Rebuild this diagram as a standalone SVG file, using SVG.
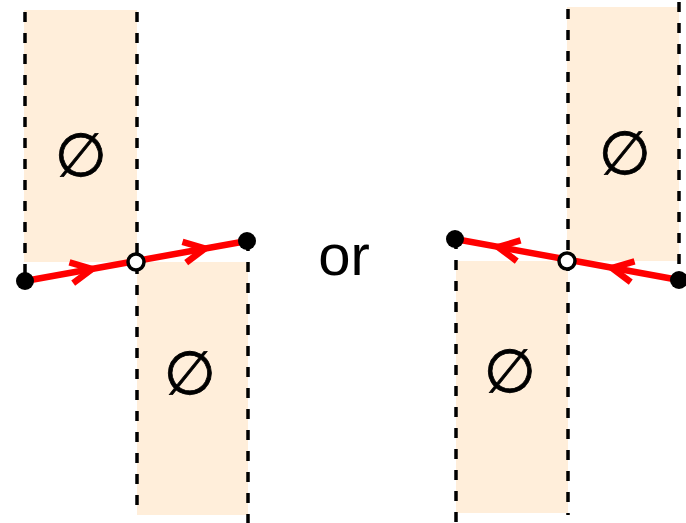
<svg xmlns="http://www.w3.org/2000/svg" width="686" height="523" viewBox="0 0 686 523">
<style>
.reg{fill:#FFEEDA;stroke:none}
.dash{stroke:#000;stroke-width:3.5;stroke-dasharray:10,11;fill:none}
.path{stroke:#FF0000;stroke-width:6.5;fill:none;stroke-linecap:butt}
.chev{stroke:#FF0000;stroke-width:6.5;fill:none;stroke-linejoin:miter}
.sym{font-family:"DejaVu Sans",sans-serif;font-size:60px;text-anchor:middle;fill:#000;stroke:#000;stroke-width:0.8}
.dot{fill:#000}
.open{fill:#fff;stroke:#000;stroke-width:3.5}
</style>
<defs>
<path id="chev" class="chev" d="M-21,-10.5 L0,0 L-21,10.5"/>
</defs>
<g id="regions">
<rect class="reg" x="24" y="10" width="113" height="252"/>
<rect class="reg" x="137" y="262" width="111" height="253"/>
<rect class="reg" x="567" y="7" width="112" height="254"/>
<rect class="reg" x="456" y="261" width="112" height="252"/>
</g>
<g id="symbols">
<text class="sym" x="81" y="176">∅</text>
<text class="sym" x="190" y="394">∅</text>
<text class="sym" x="625" y="174">∅</text>
<text class="sym" x="510" y="392">∅</text>
<text x="344" y="275" font-family="Liberation Sans, Arial, sans-serif" font-size="58" text-anchor="middle">or</text>
</g>
<g id="connectors">
<line class="dash" x1="25" y1="12" x2="25" y2="278"/>
<line class="dash" x1="137" y1="12" x2="137" y2="515"/>
<line class="dash" x1="248" y1="241" x2="248" y2="523"/>
<line class="dash" x1="679" y1="2" x2="679" y2="278"/>
<line class="dash" x1="568" y1="9" x2="568" y2="515"/>
<line class="dash" x1="456" y1="239" x2="456" y2="523"/>
<line class="path" x1="25" y1="281" x2="247" y2="241"/>
<line class="path" x1="679" y1="280" x2="455" y2="239"/>
<use href="#chev" transform="translate(92,269) rotate(-10.2)"/>
<use href="#chev" transform="translate(205,248.5) rotate(-10.2)"/>
<use href="#chev" transform="translate(612,268) rotate(190.4)"/>
<use href="#chev" transform="translate(498,247) rotate(190.4)"/>
</g>
<g id="n1"><circle class="dot" cx="25" cy="281" r="9"/></g>
<g id="n2"><circle class="open" cx="136" cy="262" r="8"/></g>
<g id="n3"><circle class="dot" cx="247" cy="241" r="9"/></g>
<g id="n4"><circle class="dot" cx="455" cy="239" r="9"/></g>
<g id="n5"><circle class="open" cx="567" cy="261" r="8"/></g>
<g id="n6"><circle class="dot" cx="679" cy="280" r="9"/></g>
</svg>
